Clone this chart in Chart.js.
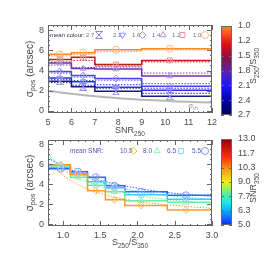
<!DOCTYPE html>
<html>
<head>
<meta charset="utf-8">
<script src="https://cdn.jsdelivr.net/npm/chart.js@4.4.1/dist/chart.umd.min.js"></script>
<style>
  html, body { margin: 0; padding: 0; background: #fff; }
  body { position: relative; width: 269px; height: 253px; overflow: hidden; }
  canvas { position: absolute; }
</style>
</head>
<body>
<canvas id="posVsSnr" width="269" height="140" style="left:0;top:0"></canvas>
<canvas id="colourBar" width="48" height="140" style="left:221px;top:0"></canvas>
<canvas id="posVsColour" width="269" height="127" style="left:0;top:126px"></canvas>
<canvas id="snrBar" width="48" height="127" style="left:221px;top:126px"></canvas>
<script>
// ---- top panel: positional error vs SNR250, one line per colour bin
let snrEdges = [5, 6, 7, 9, 12]
let snrMid = [5.5, 6.5, 7.9, 10.2]
let colourLabels = ["2.7", "2.1", "1.6", "1.4", "1.2", "1.0"]
let pos27 = [2.95, 2.4, 1.95, 1.45]
let pos21 = [3.25, 2.9, 2.35, 2.05]
let pos16 = [3.9, 3.5, 3.2, 2.45]
let pos14 = [4.75, 4.2, 4.15, 3.45]
let pos12 = [5.1, 5.3, 4.6, 5.0]
let pos10 = [5.6, 5.75, 6.05, 6.15]
let mod27 = [2.8, 2.55, 2.25, 1.75]
let mod21 = [3.1, 3.0, 2.6, 2.25]
let mod16 = [3.75, 3.35, 3.05, 2.7]
let mod14 = [4.55, 4.3, 4.35, 3.75]
let mod12 = [4.85, 5.0, 4.45, 4.85]
let mod10 = [5.45, 5.6, 5.9, 6.05]
let topErr = [0.25, 0.2, 0.15, 0.15]
let thSnr = [5, 6, 7, 8, 9, 10, 11, 12]
let sigmaTh = [2.0, 1.7, 1.45, 1.27, 1.12, 1.0, 0.9, 0.83]
let topXTicks = [5, 6, 7, 8, 9, 10, 11, 12]
let topYTicks = [0, 2, 4, 6, 8]
let colourBarTicks = ["2.7", "2.4", "2.1", "1.8", "1.5", "1.2", "1.0"]

// ---- bottom panel: positional error vs colour, one line per SNR bin
let colEdges = [0.8, 1.1, 1.33, 1.57, 1.83, 2.4, 3.0]
let colMid = [0.97, 1.2, 1.44, 1.69, 2.05, 2.65]
let snrLabels = ["10.5", "8.0", "6.5", "5.5"]
let pos105 = [5.95, 4.95, 3.35, 2.45, 1.9, 1.45]
let pos80 = [5.85, 4.7, 3.9, 3.25, 2.35, 2.2]
let pos65 = [5.7, 5.05, 4.25, 3.65, 2.95, 2.5]
let pos55 = [5.55, 5.25, 4.7, 3.85, 3.25, 2.9]
let curveCol = [0.8, 1.0, 1.25, 1.5, 2.0, 2.5, 3.0]
let mod105 = [6.2, 4.9, 3.8, 3.1, 2.3, 1.9, 1.6]
let mod80 = [6.8, 5.5, 4.5, 3.8, 2.9, 2.4, 2.1]
let mod65 = [7.0, 5.7, 4.9, 4.2, 3.3, 2.8, 2.5]
let mod55 = [6.6, 5.8, 5.0, 4.4, 3.6, 3.1, 2.8]
let bottomErr = [0.25, 0.2, 0.2, 0.15, 0.15, 0.15]
let bottomXTicks = [1.0, 1.5, 2.0, 2.5, 3.0]
let bottomYTicks = [0, 2, 4, 6, 8]
let snrBarTicks = ["5.0", "6.3", "7.7", "9.0", "10.3", "11.7", "13.0"]

const FONT = '"Liberation Sans", "DejaVu Sans", sans-serif'
const AXIS = "#666"
const LABEL = "#4a4a4a"

// hourglass marker, drawn once and used as a point style
function hourglass(colour){
    let c = document.createElement("canvas")
    c.width = 8
    c.height = 8
    let g = c.getContext("2d")
    g.strokeStyle = colour
    g.lineWidth = 1
    g.beginPath()
    g.moveTo(0.5, 0.5); g.lineTo(7.5, 0.5); g.lineTo(0.5, 7.5); g.lineTo(7.5, 7.5); g.lineTo(0.5, 0.5)
    g.stroke()
    return c
}

function richText(ctx, parts, x, y, size, colour, angle){
    ctx.save()
    ctx.translate(x, y)
    if(angle) ctx.rotate(angle)
    let w = 0
    parts.forEach(p => {
        ctx.font = (p[1] ? size * 0.72 : size) + "px " + FONT
        w += ctx.measureText(p[0]).width
    })
    let cx = -w / 2
    ctx.fillStyle = colour
    ctx.textBaseline = "middle"
    ctx.textAlign = "left"
    parts.forEach(p => {
        ctx.font = (p[1] ? size * 0.72 : size) + "px " + FONT
        ctx.fillText(p[0], cx, p[1] ? size * 0.35 : 0)
        cx += ctx.measureText(p[0]).width
    })
    ctx.restore()
}

function stepPoints(edges, vals){
    let pts = []
    vals.forEach((v, i) => {
        pts.push({x: edges[i], y: v})
        pts.push({x: edges[i + 1], y: v})
    })
    return pts
}

function marker(ctx, style, x, y){
    if(style.pointStyle instanceof HTMLCanvasElement){
        ctx.drawImage(style.pointStyle, x - 4, y - 4)
        return
    }
    ctx.save()
    ctx.strokeStyle = style.pale
    ctx.fillStyle = "rgba(0,0,0,0)"
    Chart.helpers.drawPoint(ctx, {pointStyle: style.pointStyle, rotation: style.rotation || 0, radius: 3.5, borderWidth: 1}, x, y)
    ctx.restore()
}

let topGroups = [
    {label: colourLabels[0], solid: pos27, model: mod27, colour: "#181880", pale: "#8a8ad8", pointStyle: hourglass("#8a8ad8")},
    {label: colourLabels[1], solid: pos21, model: mod21, colour: "#2434e8", pale: "#8a8cff", pointStyle: "triangle", rotation: 180},
    {label: colourLabels[2], solid: pos16, model: mod16, colour: "#4a44f4", pale: "#9a8cf4", pointStyle: "rectRot"},
    {label: colourLabels[3], solid: pos14, model: mod14, colour: "#7a2cb4", pale: "#b294dc", pointStyle: "triangle"},
    {label: colourLabels[4], solid: pos12, model: mod12, colour: "#c01a1e", pale: "#e89494", pointStyle: "rect"},
    {label: colourLabels[5], solid: pos10, model: mod10, colour: "#ff8a24", pale: "#ffb488", pointStyle: "circle"}
]

let bottomGroups = [
    {label: snrLabels[0], solid: pos105, model: mod105, colour: "#ff9a26", pale: "#ffb464", pointStyle: "rectRot"},
    {label: snrLabels[1], solid: pos80, model: mod80, colour: "#5ef0a4", pale: "#8cf0b4", pointStyle: "triangle"},
    {label: snrLabels[2], solid: pos65, model: mod65, colour: "#30d0ff", pale: "#84d8ff", pointStyle: "rect"},
    {label: snrLabels[3], solid: pos55, model: mod55, colour: "#2a66ff", pale: "#7c98ff", pointStyle: "circle"}
]

let frame = {
    id: "frame",
    afterDatasetsDraw(chart){
        let o = chart.options.plugins.frame
        let ctx = chart.ctx
        let a = chart.chartArea
        ctx.save()
        ctx.strokeStyle = AXIS
        ctx.lineWidth = 1
        ctx.strokeRect(Math.round(a.left) + 0.5, Math.round(a.top) + 0.5, Math.round(a.right - a.left) - 1, Math.round(a.bottom - a.top) - 1)
        ctx.beginPath()
        let marks = (scale, step, len, horiz) => {
            let first = Math.ceil(scale.min / step - 1e-6)
            let last = Math.floor(scale.max / step + 1e-6)
            for(let k = first; k <= last; k++){
                let p = Math.round(scale.getPixelForValue(k * step)) + 0.5
                if(horiz){
                    ctx.moveTo(p, a.bottom); ctx.lineTo(p, a.bottom - len)
                    ctx.moveTo(p, a.top); ctx.lineTo(p, a.top + len)
                } else {
                    ctx.moveTo(a.left, p); ctx.lineTo(a.left + len, p)
                    ctx.moveTo(a.right, p); ctx.lineTo(a.right - len, p)
                }
            }
        }
        if(o.xMinor){ marks(chart.scales.x, o.xMinor, 2, true); marks(chart.scales.x, o.xMajor, 5, true) }
        if(o.yMinor){ marks(chart.scales.y, o.yMinor, 2, false) }
        marks(chart.scales.y, o.yMajor, o.yLen || 5, false)
        ctx.stroke()
        ctx.restore()
    }
}

let errorBars = {
    id: "errorBars",
    afterDatasetsDraw(chart){
        let ctx = chart.ctx
        let ys = chart.scales.y
        chart.data.datasets.forEach((ds, i) => {
            if(!ds.err) return
            let meta = chart.getDatasetMeta(i)
            ctx.save()
            ctx.strokeStyle = ds.borderColor
            ctx.lineWidth = 1
            ctx.beginPath()
            meta.data.forEach((pt, j) => {
                let x = Math.round(pt.x) + 0.5
                ctx.moveTo(x, ys.getPixelForValue(ds.data[j].y + ds.err[j]))
                ctx.lineTo(x, ys.getPixelForValue(ds.data[j].y - ds.err[j]))
            })
            ctx.stroke()
            ctx.restore()
        })
    }
}

function groupSets(groups, edges, mid, err, curveX){
    let sets = []
    groups.forEach(g => {
        sets.push({
            data: mid.map((x, i) => ({x: x, y: g.solid[i]})),
            showLine: false, pointStyle: g.pointStyle, pointRotation: g.rotation || 0,
            pointRadius: 3.5, pointBorderWidth: 1, borderColor: g.pale, pointBorderColor: g.pale,
            pointBackgroundColor: "rgba(0,0,0,0)", err: err, order: 0
        })
        sets.push({
            data: stepPoints(edges, g.solid), borderColor: g.colour, borderWidth: 1.5,
            pointRadius: 0, order: 1
        })
        sets.push({
            data: curveX ? curveX.map((x, i) => ({x: x, y: g.model[i]})) : stepPoints(edges, g.model),
            borderColor: g.colour, borderWidth: 1, borderDash: [1.5, 1.5],
            cubicInterpolationMode: curveX ? "monotone" : "default",
            pointRadius: 0, order: 2
        })
    })
    return sets
}

function makePanel(id, o){
    return new Chart(document.getElementById(id), {
        type: "line",
        data: {datasets: o.datasets},
        options: {
            responsive: false,
            animation: false,
            layout: {padding: {left: 0, right: 269 - 212, top: o.top, bottom: 0}},
            plugins: {
                legend: {display: false},
                tooltip: {enabled: false},
                frame: {xMajor: o.xMajor, xMinor: o.xMinor, yMajor: 2, yMinor: 0.5}
            },
            scales: {
                x: {
                    type: "linear", min: o.xMin, max: o.xMax,
                    afterBuildTicks: s => { s.ticks = o.xTicks.map(v => ({value: v})) },
                    afterFit: s => { s.height = o.xAxisH },
                    grid: {display: false, drawTicks: false},
                    border: {display: false},
                    ticks: {font: {family: FONT, size: 9}, color: LABEL, padding: 4, maxRotation: 0,
                        callback: v => o.xFmt(v)}
                },
                y: {
                    type: "linear", min: o.yMin, max: o.yMax,
                    afterBuildTicks: s => { s.ticks = o.yTicks.map(v => ({value: v})) },
                    afterFit: s => { s.width = 48 },
                    grid: {display: false, drawTicks: false},
                    border: {display: false},
                    ticks: {font: {family: FONT, size: 9}, color: LABEL, padding: 4}
                }
            }
        },
        plugins: [frame, errorBars, o.decor]
    })
}

function colourBar(id, ticks, stops, top, bottom, height, title, titleY){
    return new Chart(document.getElementById(id), {
        type: "bar",
        data: {
            labels: [""],
            datasets: [{
                data: [[0, ticks.length - 1]],
                barPercentage: 1, categoryPercentage: 1, borderWidth: 0,
                backgroundColor: c => {
                    let area = c.chart.chartArea
                    if(!area) return stops[0][1]
                    let grad = c.chart.ctx.createLinearGradient(0, area.bottom, 0, area.top)
                    stops.forEach(s => grad.addColorStop(s[0], s[1]))
                    return grad
                }
            }]
        },
        options: {
            responsive: false,
            animation: false,
            layout: {padding: {left: 0, right: 0, top: top, bottom: height - bottom}},
            plugins: {legend: {display: false}, tooltip: {enabled: false}, frame: {yMajor: 1, yLen: 3}},
            scales: {
                x: {display: false},
                y: {
                    position: "right", min: 0, max: ticks.length - 1,
                    afterBuildTicks: s => { s.ticks = ticks.map((t, i) => ({value: i})) },
                    afterFit: s => { s.width = 37 },
                    grid: {display: false, drawTicks: false},
                    border: {display: false},
                    ticks: {font: {family: FONT, size: 9}, color: LABEL, padding: 6, callback: v => ticks[v]}
                }
            }
        },
        plugins: [frame, {
            id: "barTitle",
            afterDraw(chart){ richText(chart.ctx, title, 33, titleY, 9, LABEL, -Math.PI / 2) }
        }]
    })
}

// top panel
let topSets = groupSets(topGroups, snrEdges, snrMid, topErr, null)
topSets.push({
    data: thSnr.map((x, i) => ({x: x, y: sigmaTh[i]})),
    borderColor: "#b8b8b8", borderWidth: 2, tension: 0.4, pointRadius: 0, order: 3
})
let topLegendText = [86, 113, 132, 152, 172, 193]
let topLegendMark = [99, 122.5, 142.5, 163, 182.5, 205]

makePanel("posVsSnr", {
    datasets: topSets, top: 25, xAxisH: 27,
    xMin: 5, xMax: 12, yMin: -0.2, yMax: 8.5,
    xTicks: topXTicks, yTicks: topYTicks, xMajor: 1, xMinor: 0.2,
    xFmt: v => String(v),
    decor: {
        id: "topDecor",
        afterDraw(chart){
            let ctx = chart.ctx
            richText(ctx, [["σ"], ["pos", 1], [" (arcsec)"]], 30, 69, 10, LABEL, -Math.PI / 2)
            richText(ctx, [["SNR"], ["250", 1]], 130, 131, 9, LABEL)
            richText(ctx, [["σ"], ["th", 1]], 193, 106, 8, "#9a9a9a")
            ctx.save()
            ctx.font = "6px " + FONT
            ctx.textBaseline = "middle"
            ctx.fillStyle = "#34344a"
            ctx.fillText("mean colour:", 50, 35)
            ctx.fillStyle = "#70708a"
            topGroups.forEach((g, i) => {
                ctx.fillText(g.label, topLegendText[i], 35)
                marker(ctx, g, topLegendMark[i], 35)
            })
            ctx.restore()
        }
    }
})

colourBar("colourBar", colourBarTicks, [
    [0, "#000050"], [0.17, "#0000b4"], [0.34, "#1a1aff"], [0.5, "#6020a8"],
    [0.64, "#8a1040"], [0.8, "#e01010"], [0.9, "#ff4a14"], [1, "#ff8c28"]
], 26, 115, 140, [["S"], ["250", 1], ["/S"], ["350", 1]], 66)

// bottom panel
let bottomLegendText = [120, 143, 167, 192]
let bottomLegendMark = [133.5, 157, 181, 205]

makePanel("posVsColour", {
    datasets: groupSets(bottomGroups, colEdges, colMid, bottomErr, curveCol),
    top: 14, xAxisH: 27,
    xMin: 0.8, xMax: 3.0, yMin: -0.15, yMax: 8.4,
    xTicks: bottomXTicks, yTicks: bottomYTicks, xMajor: 0.5, xMinor: 0.1,
    xFmt: v => v.toFixed(1),
    decor: {
        id: "bottomDecor",
        afterDraw(chart){
            let ctx = chart.ctx
            richText(ctx, [["σ"], ["pos", 1], [" (arcsec)"]], 30, 57, 10, LABEL, -Math.PI / 2)
            richText(ctx, [["S"], ["250", 1], ["/S"], ["350", 1]], 130, 117, 9, LABEL)
            ctx.save()
            ctx.font = "6.5px " + FONT
            ctx.textBaseline = "middle"
            ctx.fillStyle = "#4a58b4"
            ctx.fillText("mean SNR:", 70, 25)
            bottomGroups.forEach((g, i) => {
                ctx.fillText(g.label, bottomLegendText[i], 25)
                marker(ctx, g, bottomLegendMark[i], 25)
            })
            ctx.restore()
        }
    }
})

colourBar("snrBar", snrBarTicks, [
    [0, "#0a28ff"], [0.12, "#0a8cff"], [0.25, "#14e6f0"], [0.38, "#64f08c"],
    [0.5, "#f0f014"], [0.64, "#ff9a14"], [0.8, "#ff2a0a"], [1, "#8c0000"]
], 13, 99, 127, [["SNR"], ["350", 1]], 62)
</script>
</body>
</html>
